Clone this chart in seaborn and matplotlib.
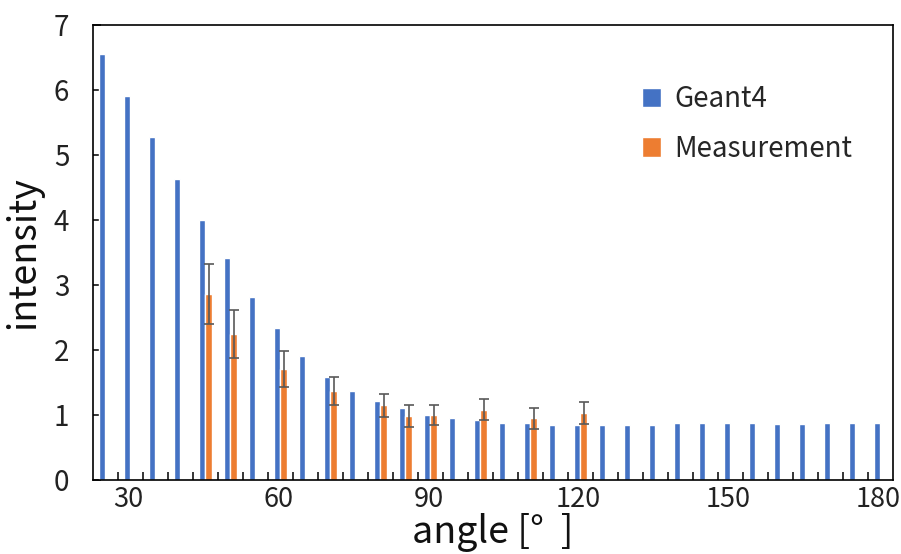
import numpy as np
import pandas as pd
import matplotlib
matplotlib.use('Agg')
import matplotlib.pyplot as plt
import matplotlib.transforms as mtransforms
import seaborn as sns

# Geant4 simulation, every 5 degrees from 25 to 180
angles = list(range(25, 185, 5))
geant4 = [6.56, 5.91, 5.27, 4.63, 4.00, 3.42, 2.81, 2.34, 1.90, 1.58,
          1.37, 1.22, 1.10, 1.00, 0.95, 0.92, 0.88, 0.88, 0.85, 0.85,
          0.85, 0.85, 0.85, 0.88, 0.88, 0.88, 0.88, 0.86, 0.86, 0.88,
          0.88, 0.88]

# measured points with error
meas_angles = [45, 50, 60, 70, 80, 85, 90, 100, 110, 120]
meas = [2.86, 2.25, 1.71, 1.37, 1.15, 0.98, 1.00, 1.08, 0.95, 1.03]
meas_err = [0.46, 0.37, 0.28, 0.22, 0.18, 0.17, 0.16, 0.16, 0.16, 0.17]

tick_labels = [str(a) if a % 30 == 0 else '' for a in angles]

df = pd.DataFrame({
    'angle': angles + meas_angles,
    'intensity': geant4 + meas,
    'source': ['Geant4'] * len(angles) + ['Measurement'] * len(meas_angles),
})

sns.set_style('ticks')
plt.rcParams['font.family'] = ['Noto Sans CJK JP', 'DejaVu Sans']

fig = plt.figure(figsize=(9.01, 5.54), dpi=100)
ax = fig.add_axes([0.1032, 0.1336, 0.8879, 0.8213])

sns.barplot(data=df, x='angle', y='intensity', hue='source', order=angles,
            hue_order=['Geant4', 'Measurement'], palette=['#4472C4', '#ED7D31'],
            width=0.52, saturation=1, errorbar=None, ax=ax)

# error bars on the measured bars
for bar, err in zip(ax.containers[1], meas_err):
    ax.errorbar(bar.get_x() + bar.get_width() / 2, bar.get_height(), yerr=err,
                fmt='none', ecolor='#595959', elinewidth=1.2, capsize=3.5, capthick=1.2)

ax.set_xlim(-0.5, len(angles) - 0.5)
ax.set_ylim(0, 7)
ax.set_xticks(range(len(angles)))
ax.set_xticklabels(tick_labels)
ax.set_xticks(np.arange(0.5, len(angles) - 1, 1), minor=True)
ax.tick_params(axis='x', which='major', length=0, pad=4, labelsize=19.5, colors='#222222')
ax.tick_params(axis='x', which='minor', direction='in', length=6, width=1.1, color='black')
ax.tick_params(axis='y', direction='in', length=6, width=1.1, pad=17, labelsize=20,
               color='black', labelcolor='#222222')

# category labels sit a little left of the category centre
shift = mtransforms.ScaledTranslation(-2 / 100, 0, fig.dpi_scale_trans)
for lbl in ax.get_xticklabels():
    lbl.set_transform(lbl.get_transform() + shift)

for s in ax.spines.values():
    s.set_visible(True)
    s.set_color('black')
    s.set_linewidth(1.2)

ax.set_xlabel('angle [°  ]', fontsize=27, labelpad=0, color='#111111')
ax.set_ylabel('intensity', fontsize=27, labelpad=8, color='#111111')

ax.legend(loc='upper left', bbox_to_anchor=(0.655, 0.925), frameon=False, fontsize=20,
          handlelength=0.7, handleheight=0.7, handletextpad=0.45, labelspacing=0.7)

fig.savefig('out.png', dpi=100)
